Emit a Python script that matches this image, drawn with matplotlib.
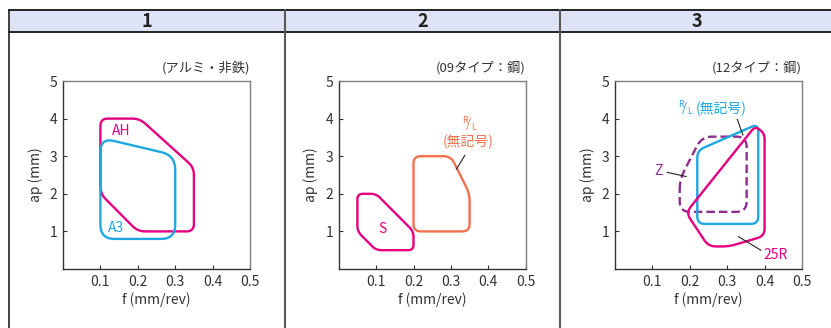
import numpy as np
import matplotlib
matplotlib.use('Agg')
import matplotlib.pyplot as plt
from matplotlib.patches import Rectangle, Polygon

# fonts
FAM = ['Liberation Sans Narrow', 'Noto Sans CJK JP', 'DejaVu Sans']
plt.rcParams['font.family'] = FAM
plt.rcParams['mathtext.fontset'] = 'custom'
plt.rcParams['mathtext.rm'] = 'Noto Sans CJK JP'

# column headers and panel notes
headers = ['1', '2', '3']
notes = ['(アルミ・非鉄)', '(09タイプ：鋼)', '(12タイプ：鋼)']

# axis ticks
f_ticks = [0.1, 0.2, 0.3, 0.4, 0.5]
ap_ticks = [1, 2, 3, 4, 5]

# panel 1 regions (f, ap)
ah_f = [0.1, 0.205, 0.35, 0.35, 0.2, 0.1]
ah_ap = [4.0, 4.0, 2.7, 1.0, 1.0, 2.0]
a3_f = [0.1, 0.3, 0.3, 0.1]
a3_ap = [3.49, 3.02, 0.8, 0.8]

# panel 2 regions
s_f = [0.05, 0.1, 0.2, 0.2, 0.1, 0.05]
s_ap = [2.0, 2.0, 1.0, 0.5, 0.5, 1.0]
rl2_f = [0.2, 0.3, 0.35, 0.35, 0.2]
rl2_ap = [3.0, 3.0, 2.0, 1.0, 1.0]

# panel 3 regions
z_f = [0.173, 0.232, 0.352, 0.352, 0.173]
z_ap = [2.38, 3.52, 3.52, 1.52, 1.52]
rl3_f = [0.22, 0.383, 0.383, 0.22]
rl3_ap = [3.15, 3.86, 1.2, 1.2]
r25_f = [0.19, 0.375, 0.40, 0.40, 0.305, 0.25]
r25_ap = [1.5, 3.8, 3.6, 0.88, 0.6, 0.6]

MAG = '#e4007f'
CYAN = '#1ea7e1'
ORANGE = '#f2714f'
PURPLE = '#8e2d8e'


def rounded(fs, aps, r):
    # round polygon corners; work in a square space (f*10, ap)
    pts = np.column_stack([np.array(fs) * 10, np.array(aps)])
    n = len(pts)
    out = []
    t = np.linspace(0, 1, 14)[:, None]
    for i in range(n):
        v, p, q = pts[i], pts[i - 1], pts[(i + 1) % n]
        dp, dq = p - v, q - v
        lp, lq = np.hypot(*dp), np.hypot(*dq)
        re = min(r, 0.45 * lp, 0.45 * lq)
        a = v + dp / lp * re
        b = v + dq / lq * re
        out.append((1 - t) ** 2 * a + 2 * (1 - t) * t * v + t ** 2 * b)
    out = np.vstack(out)
    out[:, 0] /= 10
    return out


def region(ax, fs, aps, r, color, **kw):
    ax.add_patch(Polygon(rounded(fs, aps, r), closed=True, fill=False,
                         edgecolor=color, lw=1.7, joinstyle='round', **kw))


fig = plt.figure(figsize=(8.31, 3.28), dpi=100)

# table frame in pixel space
bg = fig.add_axes([0, 0, 1, 1], zorder=-1)
bg.set_xlim(0, 831)
bg.set_ylim(328, 0)
bg.axis('off')
bg.add_patch(Rectangle((9, 10), 830, 22, facecolor='#dee4f5', edgecolor='none'))
bg.plot([9, 831], [10, 10], color='#222222', lw=1.4)
bg.plot([9, 831], [32, 32], color='#222222', lw=1.4)
bg.plot([9, 9], [10, 328], color='#222222', lw=1.2)
for xd in [285, 560]:
    bg.plot([xd, xd], [10, 328], color='#5a5a5a', lw=1.5)
for h, xc in zip(headers, [147, 422.5, 697]):
    bg.text(xc, 21.5, h, ha='center', va='center', fontsize=13,
            fontweight='bold', color='#222222')

lefts = [63, 338.7, 615]
axes = []
for k, x0 in enumerate(lefts):
    ax = fig.add_axes([x0 / 831, (328 - 269) / 328, 187 / 831, 188 / 328])
    ax.set_xlim(0, 0.5)
    ax.set_ylim(0, 5)
    ax.set_xticks(f_ticks)
    ax.set_xticklabels([f'{v:.1f}' for v in f_ticks])
    ax.set_yticks(ap_ticks)
    ax.set_yticklabels([str(v) for v in ap_ticks])
    ax.tick_params(direction='in', length=3, width=0.8, labelsize=10,
                   colors='#333333', pad=4)
    for s in ['left', 'bottom']:
        ax.spines[s].set_color('#333333')
        ax.spines[s].set_linewidth(1.0)
    for s in ['top', 'right']:
        ax.spines[s].set_color('#808080')
        ax.spines[s].set_linewidth(1.0)
    ax.set_xlabel('f (mm/rev)', fontsize=10, color='#333333', labelpad=3)
    ax.set_ylabel('ap (mm)', fontsize=10, color='#333333', labelpad=5)
    ax.text(1.0, 1.035, notes[k], transform=ax.transAxes, ha='right',
            va='bottom', fontsize=9.5, color='#333333')
    axes.append(ax)

RL = r'$\mathregular{^{R}\!/_{L}}$'

# panel 1
ax = axes[0]
region(ax, ah_f, ah_ap, 0.2, MAG)
region(ax, a3_f, a3_ap, 0.38, CYAN)
ax.text(0.156, 3.66, 'AH', color=MAG, fontsize=10, ha='center', va='center')
ax.text(0.142, 1.08, 'A3', color=CYAN, fontsize=10, ha='center', va='center')

# panel 2
ax = axes[1]
region(ax, s_f, s_ap, 0.15, MAG)
region(ax, rl2_f, rl2_ap, 0.2, ORANGE)
ax.text(0.117, 1.07, 'S', color=MAG, fontsize=10, ha='center', va='center')
ax.text(0.35, 3.85, RL, color=ORANGE, fontsize=9, ha='center', va='center')
ax.text(0.346, 3.39, '(無記号)', color=ORANGE, fontsize=10,
        ha='center', va='center')
ax.plot([0.337, 0.315], [3.02, 2.66], color='#222222', lw=0.8)

# panel 3
ax = axes[2]
region(ax, z_f, z_ap, 0.28, PURPLE, linestyle=(0, (3.6, 1.7)))
region(ax, rl3_f, rl3_ap, 0.2, CYAN)
region(ax, r25_f, r25_ap, 0.2, MAG)
ax.text(0.209, 4.27, RL, color=CYAN, fontsize=9, ha='right', va='center')
ax.text(0.217, 4.27, '(無記号)', color=CYAN, fontsize=10,
        ha='left', va='center')
ax.plot([0.327, 0.342], [3.98, 3.56], color='#222222', lw=0.8)
ax.text(0.116, 2.6, 'Z', color=PURPLE, fontsize=10, ha='center', va='center')
ax.plot([0.14, 0.19], [2.57, 2.46], color='#222222', lw=0.8)
ax.text(0.43, 0.37, '25R', color=MAG, fontsize=10, ha='center', va='center')
ax.plot([0.33, 0.39], [0.86, 0.5], color='#222222', lw=0.8)

fig.savefig('out.png', dpi=100)
